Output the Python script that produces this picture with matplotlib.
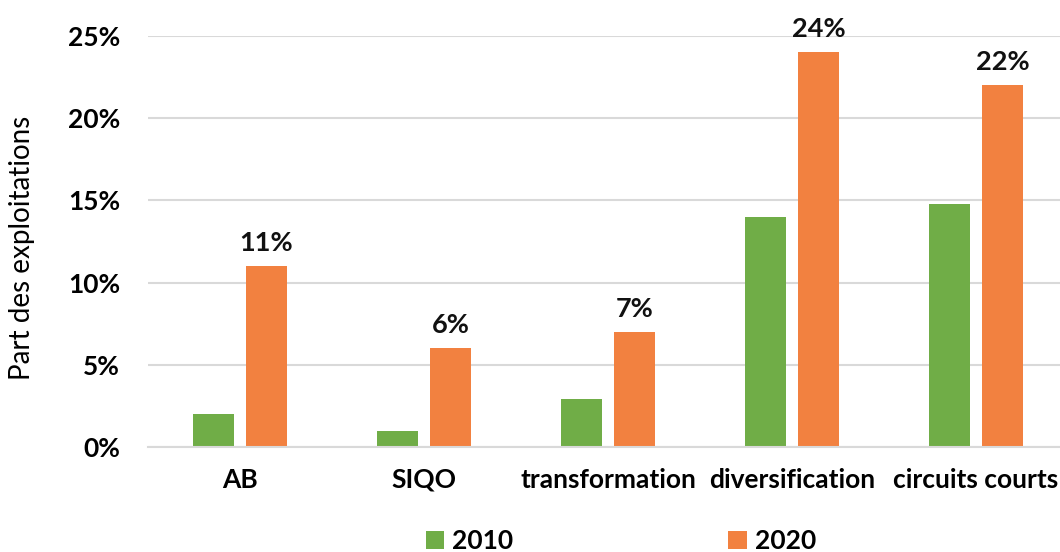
import numpy as np
from matplotlib import pyplot as plt

plt.rcParams['font.family'] = ['Lato', 'DejaVu Sans']

categories = ["AB", "SIQO", "transformation", "diversification", "circuits courts"]
vals_2010 = [2.0, 1.0, 2.9, 14.0, 14.8]
vals_2020 = [11, 6, 7, 24, 22]
yticks = [0, 5, 10, 15, 20, 25]

green = "#70AD47"
orange = "#F28140"

fig = plt.figure(figsize=(10.6, 5.52), dpi=100)
ax = fig.add_axes([148/1060, 105/552, 920/1060, 411/552])

x = np.arange(len(categories))
w = 0.228
b1 = ax.bar(x - 0.144, vals_2010, w, color=green, label="2010", zorder=3)
b2 = ax.bar(x + 0.144, vals_2020, w, color=orange, label="2020", zorder=3)

# labels only on the 2020 bars
for xi, v in zip(x, vals_2020):
    ax.annotate(str(v) + "%", (xi + 0.144, v), xytext=(0, 8), textcoords="offset points",
                ha="center", va="bottom", fontsize=19.5, fontweight="bold", color="#111111")

ax.set_xlim(-0.5, 4.5)
ax.set_ylim(0, 25)
ax.set_yticks(yticks)
ax.set_yticklabels([str(t) + "%" for t in yticks], fontsize=19, fontweight="bold")
ax.set_xticks(x)
ax.set_xticklabels(categories, fontsize=19, fontweight="bold")
ax.tick_params(axis="y", length=0, pad=20)
ax.tick_params(axis="x", length=0, pad=15)
ax.grid(axis="y", color="#d9d9d9", linewidth=1.5, zorder=0)
for s in ["top", "right", "left"]:
    ax.spines[s].set_visible(False)
ax.spines["bottom"].set_color("#d9d9d9")
ax.spines["bottom"].set_linewidth(1.5)
ax.spines["bottom"].set_zorder(4)

fig.text(22/1060, 1 - 248/552, "Part des exploitations", rotation=90, fontsize=20,
         ha="center", va="center")

fig.legend(handles=[b1, b2], loc="center", bbox_to_anchor=(621/1060, 1 - 541/552),
           ncol=2, frameon=False, prop={'weight': 'bold', 'size': 19},
           handlelength=0.7, handleheight=0.7, handletextpad=0.3, columnspacing=8.15)

plt.savefig("out.png", dpi=100)
